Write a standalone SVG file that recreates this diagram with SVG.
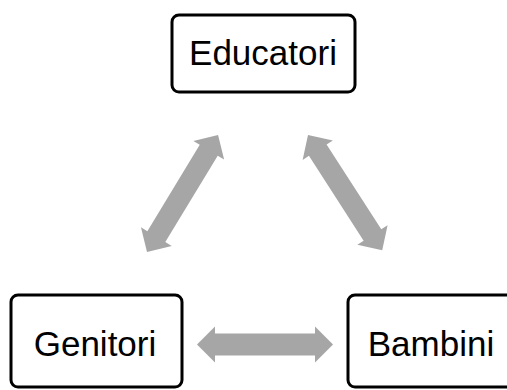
<svg xmlns="http://www.w3.org/2000/svg" width="507" height="390" viewBox="0 0 507 390">
<style>
.box{fill:#fff;stroke:#000;stroke-width:3}
.lbl{font-family:"Liberation Sans",Arial,sans-serif;font-size:35px;fill:#000;text-anchor:middle}
.arr{fill:#a6a6a6}
</style>
<rect width="507" height="390" fill="#fff"/>
<g id="connectors">
<path class="arr" transform="translate(197,344.5)" d="M0,0 L18,-18 L18,-11 L118,-11 L118,-18 L136,0 L118,18 L118,11 L18,11 L18,18 Z"/>
<path class="arr" transform="translate(147,252) rotate(-58.75)" d="M0,0 L18,-18 L18,-10.5 L119,-10.5 L119,-18 L137,0 L119,18 L119,10.5 L18,10.5 L18,18 Z"/>
<path class="arr" transform="translate(308,135) rotate(57.2)" d="M0,0 L18,-18 L18,-10.5 L119,-10.5 L119,-18 L137,0 L119,18 L119,10.5 L18,10.5 L18,18 Z"/>
</g>
<g id="educatori">
<rect class="box" x="172" y="15" width="183" height="77" rx="7"/>
<text class="lbl" x="263" y="65">Educatori</text>
</g>
<g id="genitori">
<rect class="box" x="11" y="295" width="171" height="92" rx="7"/>
<text class="lbl" x="95" y="356">Genitori</text>
</g>
<g id="bambini">
<rect class="box" x="348" y="295" width="200" height="92" rx="7"/>
<text class="lbl" x="431" y="356">Bambini</text>
</g>
</svg>
